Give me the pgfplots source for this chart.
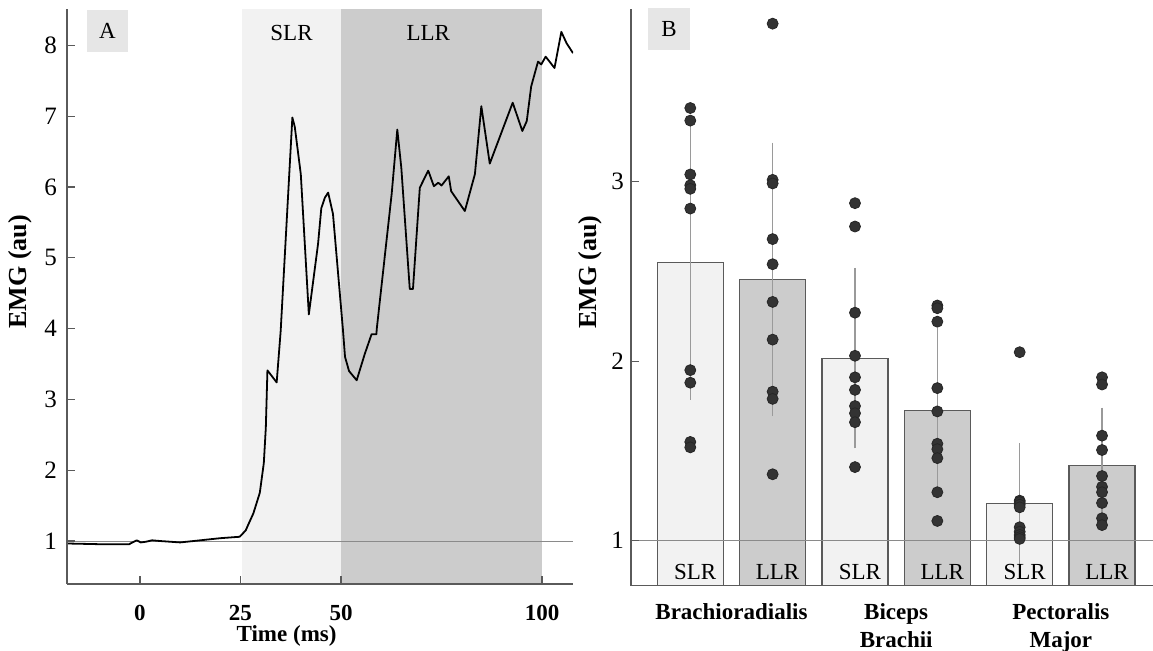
\documentclass[border=0pt]{standalone}
\usepackage{fontspec}
\setmainfont{Liberation Serif}
\usepackage{pgfplots}
\pgfplotsset{compat=1.18}

\definecolor{slr}{HTML}{F2F2F2}
\definecolor{llr}{HTML}{CCCCCC}
\definecolor{tagbox}{HTML}{E6E6E6}
\definecolor{axisgray}{HTML}{5A5A5A}
\definecolor{edgegray}{HTML}{5A5A5A}
\definecolor{errgray}{HTML}{9A9A9A}
\definecolor{refgray}{HTML}{8A8A8A}
\definecolor{dot}{HTML}{333333}

\newcommand{\fs}{\fontsize{11.5bp}{14bp}\selectfont}
\newcommand{\fy}{\fontsize{12.5bp}{14bp}\selectfont}

\pgfplotsset{
  panel/.style={
    scale only axis,
    anchor=south west,
    axis on top,
    axis x line*=bottom,
    axis y line*=left,
    axis line style={draw=axisgray, line width=0.7pt, -},
    tick style={draw=axisgray, line width=0.6pt},
    tick align=inside,
    major tick length=4bp,
    /pgf/number format/assume math mode=true,
    tick label style={font=\fs},
    yticklabel style={font=\fy},
    clip mode=individual,
  },
}

\begin{document}
\begin{tikzpicture}

% ---- panel A: EMG trace ----
\begin{axis}[panel,
    at={(33.5bp,33.5bp)},
    width=253bp, height=287.5bp,
    xmin=-18.15, xmax=107.7,
    ymin=0.393, ymax=8.513,
    xtick={0,25,50,100},
    xticklabels={0,25,50,100},
    ytick={1,2,3,4,5,6,7,8},
    xticklabel style={font=\fs\bfseries, yshift=-7bp},
    yticklabel style={xshift=-1.5bp},
]
\addplot[fill=slr, draw=none] coordinates {(25.4,0.393)(50,0.393)(50,8.513)(25.4,8.513)} -- cycle;
\addplot[fill=llr, draw=none] coordinates {(50,0.393)(100,0.393)(100,8.513)(50,8.513)} -- cycle;
\addplot[refgray, line width=0.5pt] coordinates {(-18.15,1.0)(107.7,1.0)};
\addplot[black, line width=0.9pt, line join=round] coordinates {
  (-18.2,0.965)(-10,0.955)(-2.7,0.955)(-1.5,0.99)(-0.8,1.01)(0.2,0.98)
  (1.5,0.99)(3,1.01)(5,1.0)(10,0.98)(15,1.01)(20,1.04)(24.8,1.06)
  (26.3,1.15)(27,1.24)(28.2,1.39)(29.8,1.68)(30.8,2.1)(31.3,2.6)(31.7,3.41)
  (34.0,3.24)(35.0,3.97)(37.9,6.98)(38.5,6.85)(40.0,6.18)(42.0,4.2)
  (44.3,5.2)(45.1,5.7)(46.0,5.85)(46.8,5.92)(48.0,5.62)(50.5,3.97)
  (51.0,3.6)(52.0,3.4)(53.9,3.27)(55.9,3.64)(57.6,3.92)(58.8,3.92)
  (58.9,4.0)(62.6,5.9)(64.0,6.81)(65.0,6.27)(67.1,4.56)(67.9,4.56)
  (69.6,5.99)(71.7,6.23)(73.1,6.01)(74.2,6.06)(75.0,6.02)(76.8,6.15)
  (77.4,5.94)(80.8,5.66)(83.3,6.18)(84.9,7.14)(87.0,6.33)(92.7,7.19)
  (95.1,6.79)(96.2,6.93)(97.3,7.42)(99.0,7.77)(99.8,7.73)(100.9,7.84)
  (103.1,7.68)(104.8,8.19)(106.1,8.03)(107.7,7.89)
};
\node[font=\fs] at (axis cs:37.7,8.17) {SLR};
\node[font=\fs] at (axis cs:71.7,8.17) {LLR};
\node[fill=tagbox, minimum width=20.5bp, minimum height=21bp, inner sep=0pt, font=\fs]
  at (axis description cs:0.080,0.9617) {A};
\node[font=\fs\bfseries] at (axis description cs:0.434,0) [yshift=-26bp] {Time (ms)};
\node[font=\fontsize{13bp}{15bp}\selectfont\bfseries, rotate=90]
  at (axis description cs:-0.0928,0.543) {EMG (au)};
\end{axis}

% ---- panel B: bars with individual points ----
\begin{axis}[panel,
    at={(315.5bp,32.65bp)},
    width=261bp, height=288.2bp,
    xmin=0.28, xmax=6.619,
    ymin=0.7493, ymax=3.96,
    ytick={1,2,3},
    xtick={1.5,3.5,5.5},
    xticklabels={Brachioradialis,Biceps\\Brachii,Pectoralis\\Major},
    xticklabel style={font=\fs\bfseries, align=center, yshift=-5.5bp},
    x tick style={draw=none},
]
\addplot[ybar, bar width=33bp, bar shift=0pt, fill=slr, draw=edgegray, line width=0.6pt]
  coordinates {(1,2.549)(3,2.017)(5,1.206)};
\addplot[ybar, bar width=33bp, bar shift=0pt, fill=llr, draw=edgegray, line width=0.6pt]
  coordinates {(2,2.456)(4,1.725)(6,1.420)};
\addplot[draw=none, mark=none,
    error bars/.cd, y dir=both, y explicit,
    error bar style={draw=errgray, line width=0.6pt},
    error mark options={draw=errgray, line width=0.6pt, mark size=2.5bp}]
  coordinates {
    (1,2.549) +- (0,0.737)
    (2,2.456) +- (0,0.734)
    (3,2.017) +- (0,0.475)
    (4,1.725) +- (0,0.431)
    (5,1.206) +- (0,0.310)
    (6,1.420) +- (0,0.293)
  };
\addplot[refgray, line width=0.5pt] coordinates {(0.28,1)(6.619,1)};
\addplot[only marks, mark=*, mark size=2.75bp,
    mark options={fill=dot, draw=black!85, line width=0.4pt}]
  coordinates {
    (1,3.41)(1,3.34)(1,3.04)(1,2.98)(1,2.96)(1,2.85)(1,1.95)(1,1.88)(1,1.55)(1,1.52)
    (2,3.88)(2,3.01)(2,2.99)(2,2.68)(2,2.54)(2,2.33)(2,2.12)(2,1.83)(2,1.79)(2,1.37)
    (3,2.88)(3,2.75)(3,2.27)(3,2.03)(3,1.91)(3,1.84)(3,1.75)(3,1.71)(3,1.66)(3,1.41)
    (4,2.31)(4,2.295)(4,2.22)(4,1.85)(4,1.72)(4,1.54)(4,1.51)(4,1.46)(4,1.27)(4,1.11)
    (5,2.05)(5,1.223)(5,1.215)(5,1.2)(5,1.186)(5,1.075)(5,1.05)(5,1.032)(5,1.02)(5,1.01)
    (6,1.91)(6,1.87)(6,1.585)(6,1.505)(6,1.36)(6,1.30)(6,1.27)(6,1.21)(6,1.125)(6,1.087)
  };
\node[font=\fs] at (axis cs:1.06,0.827) {SLR};
\node[font=\fs] at (axis cs:2.06,0.827) {LLR};
\node[font=\fs] at (axis cs:3.06,0.827) {SLR};
\node[font=\fs] at (axis cs:4.06,0.827) {LLR};
\node[font=\fs] at (axis cs:5.06,0.827) {SLR};
\node[font=\fs] at (axis cs:6.06,0.827) {LLR};
\node[fill=tagbox, minimum width=21bp, minimum height=21bp, inner sep=0pt, font=\fs]
  at (axis description cs:0.0728,0.9658) {B};
\node[font=\fontsize{13bp}{15bp}\selectfont\bfseries, rotate=90]
  at (axis description cs:-0.0785,0.544) {EMG (au)};
\end{axis}

\pgfresetboundingbox
\useasboundingbox (0,0) rectangle (576.5bp,325.5bp);
\end{tikzpicture}
\end{document}
